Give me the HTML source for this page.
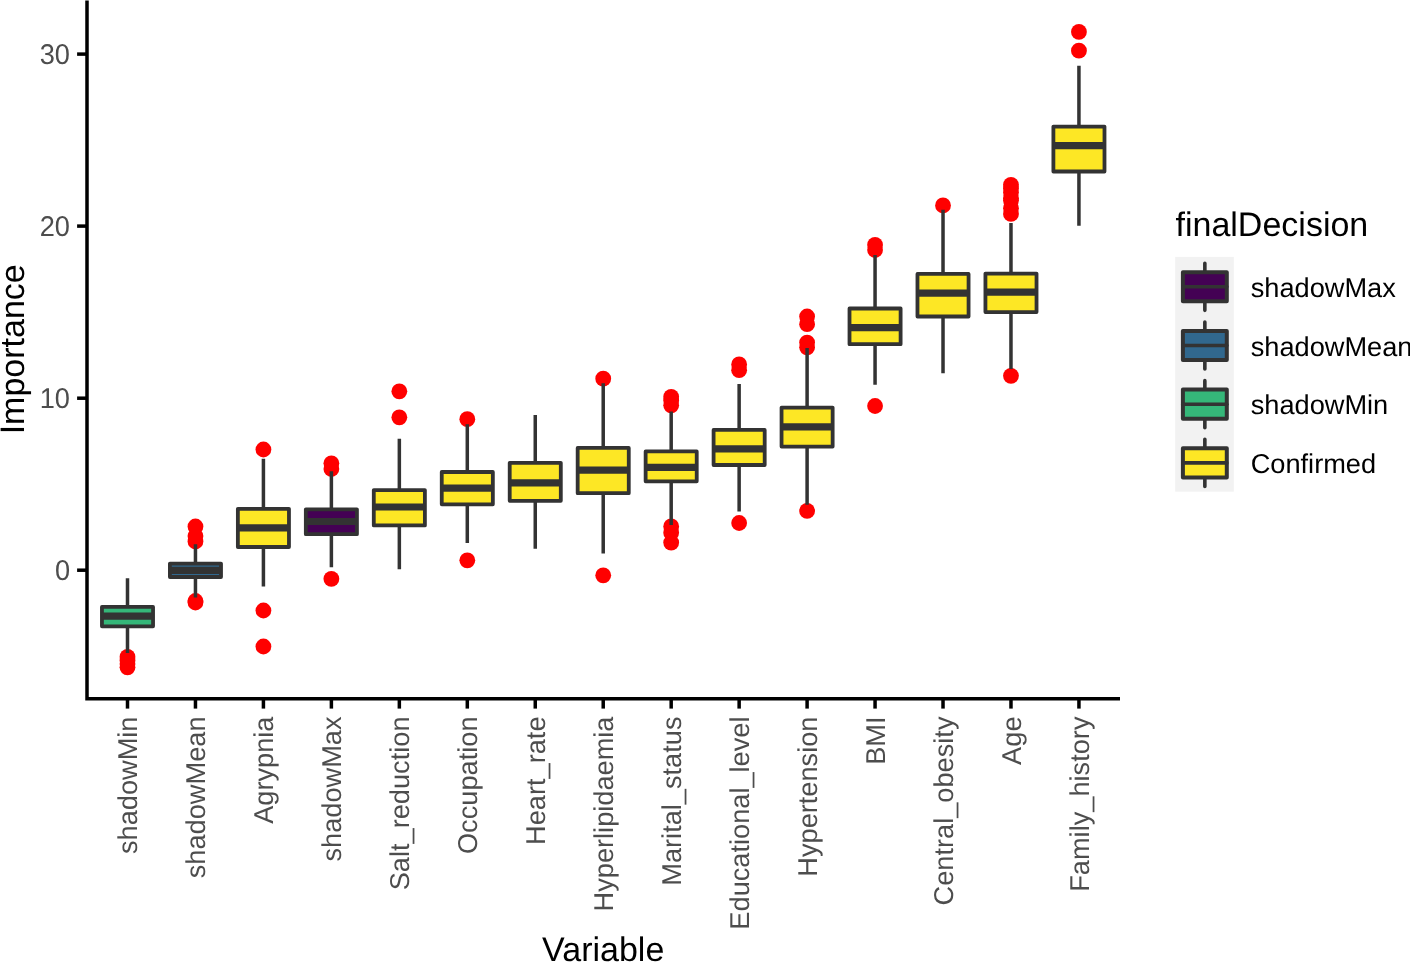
<!DOCTYPE html>
<html><head><meta charset="utf-8"><title>Boruta importance</title>
<style>html,body{margin:0;padding:0;background:#fff;overflow:hidden;}svg{display:block;will-change:transform;}text{font-family:"Liberation Sans",sans-serif;text-rendering:geometricPrecision;}</style></head><body>
<svg width="1410" height="962" viewBox="0 0 1410 962">
<rect x="0" y="0" width="1410" height="962" fill="#fff"/>
<g><circle cx="127.50" cy="656.9" r="7.9" fill="#FF0000"/><circle cx="127.50" cy="660.5" r="7.9" fill="#FF0000"/><circle cx="127.50" cy="664" r="7.9" fill="#FF0000"/><circle cx="127.50" cy="667.3" r="7.9" fill="#FF0000"/><path d="M127.50 578.2V606.90M127.50 626.30V653.0" stroke="#333333" stroke-width="3.5" fill="none"/><rect x="101.95" y="606.90" width="51.10" height="19.40" fill="#35B779" stroke="#333333" stroke-width="3.8" stroke-linejoin="round"/><path d="M101.80 616.1H153.20" stroke="#333333" stroke-width="7.2" fill="none"/></g>
<g><circle cx="195.46" cy="526.5" r="7.9" fill="#FF0000"/><circle cx="195.46" cy="536" r="7.9" fill="#FF0000"/><circle cx="195.46" cy="541.5" r="7.9" fill="#FF0000"/><circle cx="195.46" cy="601" r="7.9" fill="#FF0000"/><circle cx="195.46" cy="602.5" r="7.9" fill="#FF0000"/><path d="M195.46 544.3V563.60M195.46 577.00V597.4" stroke="#333333" stroke-width="3.5" fill="none"/><rect x="169.91" y="563.60" width="51.10" height="13.40" fill="#31688E" stroke="#333333" stroke-width="3.8" stroke-linejoin="round"/><path d="M169.76 570.3H221.16" stroke="#333333" stroke-width="7.2" fill="none"/></g>
<g><circle cx="263.42" cy="449.5" r="7.9" fill="#FF0000"/><circle cx="263.42" cy="610.5" r="7.9" fill="#FF0000"/><circle cx="263.42" cy="646.5" r="7.9" fill="#FF0000"/><path d="M263.42 458.7V508.80M263.42 547.00V586.4" stroke="#333333" stroke-width="3.5" fill="none"/><rect x="237.87" y="508.80" width="51.10" height="38.20" fill="#FDE725" stroke="#333333" stroke-width="3.8" stroke-linejoin="round"/><path d="M237.72 527.9H289.12" stroke="#333333" stroke-width="7.2" fill="none"/></g>
<g><circle cx="331.38" cy="463.3" r="7.9" fill="#FF0000"/><circle cx="331.38" cy="469" r="7.9" fill="#FF0000"/><circle cx="331.38" cy="578.8" r="7.9" fill="#FF0000"/><path d="M331.38 471.3V509.30M331.38 534.20V567.2" stroke="#333333" stroke-width="3.5" fill="none"/><rect x="305.83" y="509.30" width="51.10" height="24.90" fill="#440154" stroke="#333333" stroke-width="3.8" stroke-linejoin="round"/><path d="M305.68 521.5H357.08" stroke="#333333" stroke-width="7.2" fill="none"/></g>
<g><circle cx="399.34" cy="391.3" r="7.9" fill="#FF0000"/><circle cx="399.34" cy="417.3" r="7.9" fill="#FF0000"/><path d="M399.34 438.8V490.10M399.34 525.40V569.3" stroke="#333333" stroke-width="3.5" fill="none"/><rect x="373.79" y="490.10" width="51.10" height="35.30" fill="#FDE725" stroke="#333333" stroke-width="3.8" stroke-linejoin="round"/><path d="M373.64 507.0H425.04" stroke="#333333" stroke-width="7.2" fill="none"/></g>
<g><circle cx="467.30" cy="419.2" r="7.9" fill="#FF0000"/><circle cx="467.30" cy="560.3" r="7.9" fill="#FF0000"/><path d="M467.30 424.3V472.00M467.30 504.30V543.0" stroke="#333333" stroke-width="3.5" fill="none"/><rect x="441.75" y="472.00" width="51.10" height="32.30" fill="#FDE725" stroke="#333333" stroke-width="3.8" stroke-linejoin="round"/><path d="M441.60 488.1H493.00" stroke="#333333" stroke-width="7.2" fill="none"/></g>
<g><path d="M535.26 415.0V462.80M535.26 500.80V548.7" stroke="#333333" stroke-width="3.5" fill="none"/><rect x="509.71" y="462.80" width="51.10" height="38.00" fill="#FDE725" stroke="#333333" stroke-width="3.8" stroke-linejoin="round"/><path d="M509.56 482.9H560.96" stroke="#333333" stroke-width="7.2" fill="none"/></g>
<g><circle cx="603.22" cy="378.7" r="7.9" fill="#FF0000"/><circle cx="603.22" cy="575.3" r="7.9" fill="#FF0000"/><path d="M603.22 383.2V447.90M603.22 493.20V553.4" stroke="#333333" stroke-width="3.5" fill="none"/><rect x="577.67" y="447.90" width="51.10" height="45.30" fill="#FDE725" stroke="#333333" stroke-width="3.8" stroke-linejoin="round"/><path d="M577.52 470.2H628.92" stroke="#333333" stroke-width="7.2" fill="none"/></g>
<g><circle cx="671.18" cy="396.8" r="7.9" fill="#FF0000"/><circle cx="671.18" cy="400.5" r="7.9" fill="#FF0000"/><circle cx="671.18" cy="405.3" r="7.9" fill="#FF0000"/><circle cx="671.18" cy="526.4" r="7.9" fill="#FF0000"/><circle cx="671.18" cy="532.8" r="7.9" fill="#FF0000"/><circle cx="671.18" cy="542.6" r="7.9" fill="#FF0000"/><path d="M671.18 411.4V451.40M671.18 481.30V524.9" stroke="#333333" stroke-width="3.5" fill="none"/><rect x="645.63" y="451.40" width="51.10" height="29.90" fill="#FDE725" stroke="#333333" stroke-width="3.8" stroke-linejoin="round"/><path d="M645.48 467.4H696.88" stroke="#333333" stroke-width="7.2" fill="none"/></g>
<g><circle cx="739.14" cy="364.4" r="7.9" fill="#FF0000"/><circle cx="739.14" cy="370.2" r="7.9" fill="#FF0000"/><circle cx="739.14" cy="523" r="7.9" fill="#FF0000"/><path d="M739.14 383.9V429.90M739.14 465.00V511.5" stroke="#333333" stroke-width="3.5" fill="none"/><rect x="713.59" y="429.90" width="51.10" height="35.10" fill="#FDE725" stroke="#333333" stroke-width="3.8" stroke-linejoin="round"/><path d="M713.44 448.8H764.84" stroke="#333333" stroke-width="7.2" fill="none"/></g>
<g><circle cx="807.10" cy="316.5" r="7.9" fill="#FF0000"/><circle cx="807.10" cy="324.2" r="7.9" fill="#FF0000"/><circle cx="807.10" cy="342.6" r="7.9" fill="#FF0000"/><circle cx="807.10" cy="347.3" r="7.9" fill="#FF0000"/><circle cx="807.10" cy="510.9" r="7.9" fill="#FF0000"/><path d="M807.10 348.0V407.60M807.10 446.60V504.7" stroke="#333333" stroke-width="3.5" fill="none"/><rect x="781.55" y="407.60" width="51.10" height="39.00" fill="#FDE725" stroke="#333333" stroke-width="3.8" stroke-linejoin="round"/><path d="M781.40 426.9H832.80" stroke="#333333" stroke-width="7.2" fill="none"/></g>
<g><circle cx="875.06" cy="244.9" r="7.9" fill="#FF0000"/><circle cx="875.06" cy="250" r="7.9" fill="#FF0000"/><circle cx="875.06" cy="406" r="7.9" fill="#FF0000"/><path d="M875.06 255.1V308.50M875.06 344.20V384.7" stroke="#333333" stroke-width="3.5" fill="none"/><rect x="849.51" y="308.50" width="51.10" height="35.70" fill="#FDE725" stroke="#333333" stroke-width="3.8" stroke-linejoin="round"/><path d="M849.36 327.6H900.76" stroke="#333333" stroke-width="7.2" fill="none"/></g>
<g><circle cx="943.02" cy="205.4" r="7.9" fill="#FF0000"/><path d="M943.02 209.8V273.90M943.02 316.50V373.3" stroke="#333333" stroke-width="3.5" fill="none"/><rect x="917.47" y="273.90" width="51.10" height="42.60" fill="#FDE725" stroke="#333333" stroke-width="3.8" stroke-linejoin="round"/><path d="M917.32 293.2H968.72" stroke="#333333" stroke-width="7.2" fill="none"/></g>
<g><circle cx="1010.98" cy="184.8" r="7.9" fill="#FF0000"/><circle cx="1010.98" cy="188.5" r="7.9" fill="#FF0000"/><circle cx="1010.98" cy="192.4" r="7.9" fill="#FF0000"/><circle cx="1010.98" cy="198.2" r="7.9" fill="#FF0000"/><circle cx="1010.98" cy="200.4" r="7.9" fill="#FF0000"/><circle cx="1010.98" cy="208.2" r="7.9" fill="#FF0000"/><circle cx="1010.98" cy="213.9" r="7.9" fill="#FF0000"/><circle cx="1010.98" cy="375.8" r="7.9" fill="#FF0000"/><path d="M1010.98 223.0V273.60M1010.98 312.10V368.9" stroke="#333333" stroke-width="3.5" fill="none"/><rect x="985.43" y="273.60" width="51.10" height="38.50" fill="#FDE725" stroke="#333333" stroke-width="3.8" stroke-linejoin="round"/><path d="M985.28 292.1H1036.68" stroke="#333333" stroke-width="7.2" fill="none"/></g>
<g><circle cx="1078.94" cy="31.9" r="7.9" fill="#FF0000"/><circle cx="1078.94" cy="50.7" r="7.9" fill="#FF0000"/><path d="M1078.94 65.7V126.60M1078.94 171.50V225.7" stroke="#333333" stroke-width="3.5" fill="none"/><rect x="1053.39" y="126.60" width="51.10" height="44.90" fill="#FDE725" stroke="#333333" stroke-width="3.8" stroke-linejoin="round"/><path d="M1053.24 145.6H1104.64" stroke="#333333" stroke-width="7.2" fill="none"/></g>
<path d="M87.0 0.4V698.7H1120" stroke="#000" stroke-width="3.5" fill="none" stroke-linejoin="miter" stroke-linecap="butt"/>
<path d="M77.1 54.1H87.0" stroke="#000" stroke-width="3.5"/><text transform="translate(70,63.95) scale(1,1.05)" font-size="27.2" fill="#4D4D4D" text-anchor="end">30</text>
<path d="M77.1 226.1H87.0" stroke="#000" stroke-width="3.5"/><text transform="translate(70,235.95) scale(1,1.05)" font-size="27.2" fill="#4D4D4D" text-anchor="end">20</text>
<path d="M77.1 398.2H87.0" stroke="#000" stroke-width="3.5"/><text transform="translate(70,408.05) scale(1,1.05)" font-size="27.2" fill="#4D4D4D" text-anchor="end">10</text>
<path d="M77.1 570.2H87.0" stroke="#000" stroke-width="3.5"/><text transform="translate(70,580.05) scale(1,1.05)" font-size="27.2" fill="#4D4D4D" text-anchor="end">0</text>
<path d="M127.50 698.7V708.6" stroke="#000" stroke-width="3.5"/><text transform="translate(137.20,716.5) rotate(-90)" font-size="27.2" fill="#4D4D4D" text-anchor="end">shadowMin</text>
<path d="M195.46 698.7V708.6" stroke="#000" stroke-width="3.5"/><text transform="translate(205.16,716.5) rotate(-90)" font-size="27.2" fill="#4D4D4D" text-anchor="end">shadowMean</text>
<path d="M263.42 698.7V708.6" stroke="#000" stroke-width="3.5"/><text transform="translate(273.12,716.5) rotate(-90)" font-size="27.2" fill="#4D4D4D" text-anchor="end">Agrypnia</text>
<path d="M331.38 698.7V708.6" stroke="#000" stroke-width="3.5"/><text transform="translate(341.08,716.5) rotate(-90)" font-size="27.2" fill="#4D4D4D" text-anchor="end">shadowMax</text>
<path d="M399.34 698.7V708.6" stroke="#000" stroke-width="3.5"/><text transform="translate(409.04,716.5) rotate(-90)" font-size="27.2" fill="#4D4D4D" text-anchor="end">Salt_reduction</text>
<path d="M467.30 698.7V708.6" stroke="#000" stroke-width="3.5"/><text transform="translate(477.00,716.5) rotate(-90)" font-size="27.2" fill="#4D4D4D" text-anchor="end">Occupation</text>
<path d="M535.26 698.7V708.6" stroke="#000" stroke-width="3.5"/><text transform="translate(544.96,716.5) rotate(-90)" font-size="27.2" fill="#4D4D4D" text-anchor="end">Heart_rate</text>
<path d="M603.22 698.7V708.6" stroke="#000" stroke-width="3.5"/><text transform="translate(612.92,716.5) rotate(-90)" font-size="27.2" fill="#4D4D4D" text-anchor="end">Hyperlipidaemia</text>
<path d="M671.18 698.7V708.6" stroke="#000" stroke-width="3.5"/><text transform="translate(680.88,716.5) rotate(-90)" font-size="27.2" fill="#4D4D4D" text-anchor="end">Marital_status</text>
<path d="M739.14 698.7V708.6" stroke="#000" stroke-width="3.5"/><text transform="translate(748.84,716.5) rotate(-90)" font-size="27.2" fill="#4D4D4D" text-anchor="end">Educational_level</text>
<path d="M807.10 698.7V708.6" stroke="#000" stroke-width="3.5"/><text transform="translate(816.80,716.5) rotate(-90)" font-size="27.2" fill="#4D4D4D" text-anchor="end">Hypertension</text>
<path d="M875.06 698.7V708.6" stroke="#000" stroke-width="3.5"/><text transform="translate(884.76,716.5) rotate(-90)" font-size="27.2" fill="#4D4D4D" text-anchor="end">BMI</text>
<path d="M943.02 698.7V708.6" stroke="#000" stroke-width="3.5"/><text transform="translate(952.72,716.5) rotate(-90)" font-size="27.2" fill="#4D4D4D" text-anchor="end">Central_obesity</text>
<path d="M1010.98 698.7V708.6" stroke="#000" stroke-width="3.5"/><text transform="translate(1020.68,716.5) rotate(-90)" font-size="27.2" fill="#4D4D4D" text-anchor="end">Age</text>
<path d="M1078.94 698.7V708.6" stroke="#000" stroke-width="3.5"/><text transform="translate(1088.64,716.5) rotate(-90)" font-size="27.2" fill="#4D4D4D" text-anchor="end">Family_history</text>
<text x="603.2" y="961" font-size="34" fill="#000" text-anchor="middle">Variable</text>
<text transform="translate(24.3,349.3) rotate(-90)" font-size="34" fill="#000" text-anchor="middle">Importance</text>
<text x="1175.5" y="235.7" font-size="34" fill="#000">finalDecision</text>
<rect x="1175.2" y="256.9" width="58.6" height="234.8" fill="#F2F2F2"/>
<path d="M1204.85 263.25V272.20M1204.85 301.30V310.35" stroke="#333333" stroke-width="3.6" stroke-linecap="round" fill="none"/><rect x="1182.9" y="272.20" width="43.9" height="29.10" fill="#440154" stroke="#333333" stroke-width="4" stroke-linejoin="round"/><path d="M1182.9 286.80H1226.8" stroke="#333333" stroke-width="3.6" stroke-linecap="round" fill="none"/><text x="1250.7" y="296.9" font-size="27.2" fill="#000">shadowMax</text>
<path d="M1204.85 321.95V330.90M1204.85 360.00V369.05" stroke="#333333" stroke-width="3.6" stroke-linecap="round" fill="none"/><rect x="1182.9" y="330.90" width="43.9" height="29.10" fill="#31688E" stroke="#333333" stroke-width="4" stroke-linejoin="round"/><path d="M1182.9 345.50H1226.8" stroke="#333333" stroke-width="3.6" stroke-linecap="round" fill="none"/><text x="1250.7" y="355.6" font-size="27.2" fill="#000">shadowMean</text>
<path d="M1204.85 380.65V389.60M1204.85 418.70V427.75" stroke="#333333" stroke-width="3.6" stroke-linecap="round" fill="none"/><rect x="1182.9" y="389.60" width="43.9" height="29.10" fill="#35B779" stroke="#333333" stroke-width="4" stroke-linejoin="round"/><path d="M1182.9 404.20H1226.8" stroke="#333333" stroke-width="3.6" stroke-linecap="round" fill="none"/><text x="1250.7" y="414.2" font-size="27.2" fill="#000">shadowMin</text>
<path d="M1204.85 439.35V448.30M1204.85 477.40V486.45" stroke="#333333" stroke-width="3.6" stroke-linecap="round" fill="none"/><rect x="1182.9" y="448.30" width="43.9" height="29.10" fill="#FDE725" stroke="#333333" stroke-width="4" stroke-linejoin="round"/><path d="M1182.9 462.90H1226.8" stroke="#333333" stroke-width="3.6" stroke-linecap="round" fill="none"/><text x="1250.7" y="473.0" font-size="27.2" fill="#000">Confirmed</text>
</svg>
</body></html>
